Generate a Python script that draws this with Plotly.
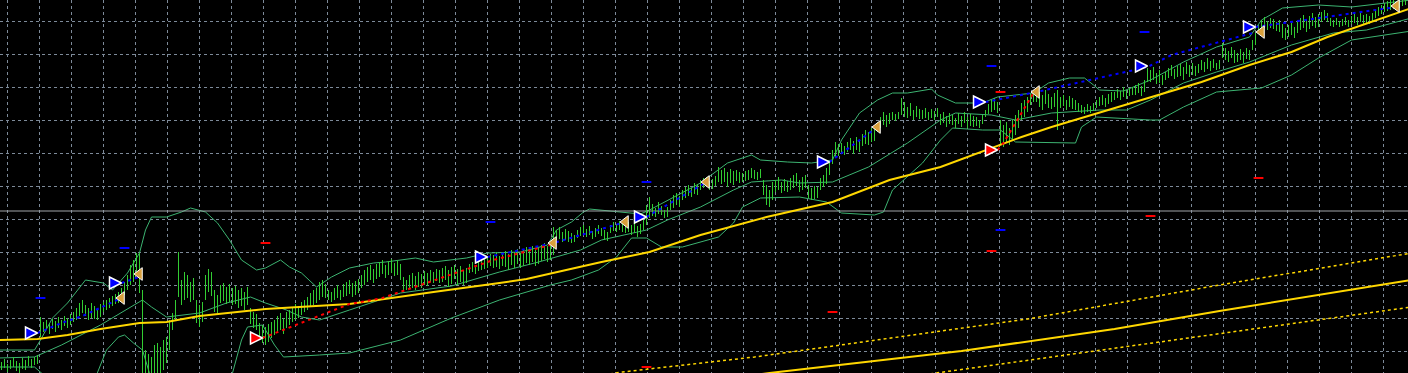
import plotly.graph_objects as go

# ---------------- price bars (high / low per bar, arbitrary price units) ----------------
high = [
    38, 41, 36, 40, 43, 39, 37, 42, 40, 44, 41, 43, 45,
    83,
    78, 80, 76, 81, 79, 83, 80, 84, 82, 86,
    88, 92, 97, 100, 95, 92, 97, 94, 90, 96,
    98, 100, 102, 104, 106, 108,
    112, 118, 125, 135, 140, 147, 147,
    110,
    50, 46, 43, 55, 57, 53, 60,
    63, 80, 87,
    100, 148, 120, 128, 125, 118, 122,
    100, 95, 98,
    125, 131, 128,
    110, 105,
    115, 117, 113, 116, 112, 114,
    110, 112, 108, 113,
    92, 88, 86, 77, 75,
    73, 76, 78,
    80, 84, 87, 82,
    88, 90, 93, 96, 94, 98, 100,
    103, 107, 110, 112, 118, 120, 116,
    110, 108,
    112, 115, 110, 116, 118, 120, 117, 119, 121,
    125, 130, 133, 135, 131, 136,
    138, 140, 135, 139, 141, 137, 140, 136,
    123, 120, 125,
    127, 124, 128, 126, 129, 127,
    130, 128, 131, 130,
    132, 134, 130, 133, 135, 131, 134,
    130, 132,
    136, 138, 135, 139, 140, 142,
    143, 146,
    145, 148, 144, 147,
    149, 146, 150, 148, 151, 147,
    150, 153, 152, 154, 150, 153,
    155, 157, 154, 157,
    173,
    170, 173, 168, 171, 169,
    167, 165,
    170, 173, 175, 171, 174, 169, 172, 175, 172,
    170, 168,
    175, 178, 176, 179, 177,
    176, 178, 175, 177, 174, 176,
    180, 195, 203,
    196, 192, 198, 194, 190, 193,
    200, 205, 207, 204,
    210, 213, 215, 212, 217, 216,
    220, 222, 223, 219, 221, 224,
    233,
    230, 232, 228, 231, 229,
    230, 228, 227, 229, 230,
    232, 230, 228, 231,
    220, 215, 210, 218,
    220, 223, 218, 221, 219,
    222, 225, 227, 220, 223, 225,
    215, 212, 214, 213,
    222, 225, 232,
    238, 250, 258, 256, 257, 254,
    258, 262, 259, 263, 260,
    266, 270, 268, 272, 271,
    278, 283, 288, 285, 287,
    288, 286, 288,
    302, 298,
    293, 297, 290, 294, 291,
    290, 292, 288, 291, 289, 292,
    286, 288, 284, 287,
    285, 282, 287, 284, 288, 283, 286, 284,
    283, 280, 285,
    290, 296, 300, 302, 298,
    280, 275, 278, 272, 280, 285,
    290, 297, 300, 303,
    306, 310, 307,
    308, 305, 310, 306, 303, 307,
    310,
    303, 305, 300, 304, 302, 300,
    297, 295, 293, 296, 294, 297,
    300, 303, 305, 302, 306, 308,
    308, 311, 309, 313, 310, 312, 313,
    315, 317, 314, 320,
    332,
    330, 333, 327, 330, 325,
    328, 332, 335, 331, 334,
    336, 333, 338, 335, 337, 334,
    336, 340, 338, 342, 339, 341, 337, 340,
    357,
    352, 349, 353, 350, 347, 351, 348, 352, 350,
    360, 367,
    375, 380, 383, 379, 382, 381, 378,
    380, 376, 372, 375, 377, 373,
    378, 382, 385, 380, 384, 387, 383, 386,
    388, 390, 387,
    382, 380, 382, 379, 381, 383, 380,
    384, 386, 383, 387, 385, 386, 384, 387,
    390, 393, 395, 397, 399, 401, 400,
    398, 402, 403, 405,
]
low = [
    30, 32, 28, 31, 33, 29, 27, 31, 30, 34, 32, 35, 36,
    63,
    68, 70, 66, 71, 68, 72, 70, 74, 72, 75,
    78, 80, 84, 87, 84, 80, 82, 81, 80, 83,
    88, 90, 92, 94, 96, 97,
    100, 105, 110, 115, 118, 125, 107,
    20,
    18, 20, 22, 18, 20, 24, 30,
    37, 50, 70,
    80, 103, 95, 100, 102, 98, 100,
    77, 73, 78,
    100, 108, 104,
    88, 87,
    97, 99, 96, 98, 95, 96,
    92, 94, 90, 95,
    76, 72, 70, 60, 57,
    55, 58, 62,
    65, 67, 70, 66,
    72, 75, 78, 80, 82, 85, 88,
    90, 93, 95, 97, 100, 103, 102,
    100, 98,
    100, 102, 100, 103, 104, 106, 103, 105, 107,
    112, 115, 118, 120, 117, 121,
    123, 126, 122, 125, 127, 124, 125, 120,
    110, 110, 112,
    112, 110, 113, 112, 115, 114,
    118, 117, 119, 117,
    118, 120, 113, 116, 121, 115, 118,
    115, 117,
    127, 128, 126, 129, 130, 131,
    132, 134,
    132, 133, 131, 134,
    133, 130, 135, 132, 136, 132,
    134, 137, 135, 138, 134, 136,
    139, 141, 138, 140,
    145,
    160, 161, 158, 160, 158,
    157, 158,
    162, 164, 165, 163, 165, 161, 163, 166, 164,
    160, 159,
    167, 169, 168, 170, 168,
    167, 168, 165, 167, 163, 166,
    170, 175, 182,
    184, 183, 186, 185, 182, 183,
    190, 192, 195, 193,
    200, 202, 204, 203, 206, 205,
    210, 212, 213, 210, 211, 214,
    218,
    216, 218, 213, 217, 215,
    219, 217, 218, 219, 220,
    222, 221, 220, 222,
    205, 195, 193, 200,
    208, 210, 207, 209, 208,
    210, 212, 214, 208, 210, 212,
    202, 200, 201, 202,
    210, 213, 216,
    225, 236, 242, 244, 246, 245,
    248, 250, 246, 250, 248,
    254, 256, 255, 258, 259,
    268, 272, 275, 273, 276,
    280, 279, 281,
    285, 283,
    282, 284, 280, 283, 281,
    281, 282, 280, 282, 280, 283,
    275, 277, 273, 276,
    275, 272, 276, 273, 277, 272, 274, 273,
    274, 272, 276,
    283, 286, 288, 290, 287,
    255, 253, 257, 255, 260, 265,
    272, 280, 283, 288,
    295, 298, 298,
    293, 290, 296, 292, 291, 293,
    270,
    292, 294, 290, 293, 291, 290,
    288, 287, 286, 288, 287, 289,
    292, 294, 295, 293, 296, 298,
    300, 302, 300, 303, 301, 304, 305,
    305, 307, 304, 308,
    318,
    318, 320, 316, 317, 315,
    320, 322, 324, 321, 323,
    324, 320, 326, 323, 325, 324,
    327, 330, 328, 331, 329, 332, 330, 331,
    342,
    340, 338, 342, 337, 338, 340, 337, 341, 340,
    350, 355,
    366, 370, 372, 370, 372, 371, 369,
    368, 362, 360, 363, 365, 362,
    367, 370, 372, 368, 371, 374, 372, 373,
    378, 380, 378,
    374, 373, 375, 373, 374, 375, 373,
    376, 377, 375, 378, 376, 377, 376, 378,
    382, 384, 386, 388, 389, 390, 391,
    390, 392, 394, 395,
]

# ---------------- Bollinger bands (bar index, price) ----------------
upper_x = [-1, 11, 13, 17, 22, 28, 34, 37, 42, 46, 48, 50, 55, 60, 63, 68, 72, 76, 80, 85, 88, 93, 96, 100,
           105, 110, 116, 124, 128, 138, 144, 150, 155, 162, 173, 182, 185, 190, 194, 196, 203, 208, 213, 216,
           233, 242, 250, 253, 262, 270, 277, 280, 286, 292, 297, 302, 310, 312, 318, 327, 332, 344, 349, 356,
           361, 364, 366, 374, 383, 394, 405, 416, 420, 427, 439, 450, 461, 470]
upper_v = [50, 50, 60, 82, 97, 120, 117, 110, 127, 147, 170, 183, 183, 188, 192, 188, 177, 160, 140, 130, 132, 140, 133, 127,
           113, 123, 132, 137, 138, 142, 138, 140, 142, 147, 148, 155, 170, 178, 188, 191, 189, 187, 186, 190,
           217, 237, 245, 240, 238, 237, 240, 260, 287, 300, 307, 307, 311, 305, 297, 297, 303, 307, 317, 322,
           322, 315, 310, 309, 320, 338, 353, 363, 380, 392, 395, 393, 397, 400]
middle_x = [-1, 11, 20, 33, 47, 50, 55, 66, 75, 83, 88, 95, 100, 106, 116, 133, 150, 166, 179, 185, 193, 200, 208,
            215, 222, 233, 244, 250, 260, 266, 277, 289, 302, 313, 318, 330, 338, 350, 366, 375, 383, 394, 405,
            416, 430, 444, 455, 470]
middle_v = [42, 43, 55, 75, 100, 93, 83, 87, 97, 103, 97, 90, 83, 80, 90, 107, 114, 128, 138, 143, 150, 160, 165,
            170, 180, 193, 210, 218, 220, 217, 218, 233, 257, 280, 287, 285, 280, 287, 290, 290, 300, 317, 328,
            338, 355, 367, 370, 382]
lower_x = [-1, 11, 16, 25, 31, 35, 39, 41, 44, 47, 50, 53, 66, 75, 77, 80, 82, 87, 91, 94, 106, 116, 133, 150,
           166, 183, 190, 199, 205, 210, 215, 220, 227, 239, 244, 247, 253, 266, 275, 280, 291, 294, 297, 307,
           313, 317, 327, 333, 338, 358, 360, 365, 383, 386, 394, 405, 420, 430, 439, 450, 470]
lower_v = [33, 33, 20, 5, 20, 50, 63, 65, 57, 50, 20, -20, -40, 0, 27, 60, 73, 75, 55, 43, 45, 47, 60, 82,
           100, 115, 120, 130, 143, 162, 162, 153, 153, 163, 177, 193, 202, 203, 198, 187, 185, 188, 210, 237,
           260, 272, 270, 270, 258, 257, 273, 283, 280, 280, 293, 308, 312, 325, 342, 360, 369]

# ---------------- moving averages ----------------
ma_x = [-1, 12, 22, 33, 46, 55, 66, 88, 116, 127, 144, 166, 175, 200, 216, 233, 255, 277, 296, 313, 330, 340,
        350, 372, 383, 400, 416, 430, 442, 470]
ma_v = [60, 61, 65, 71, 77, 78, 84, 91, 96, 101, 108, 117, 121, 138, 148, 165, 183, 198, 220, 233, 252, 263,
        273, 293, 303, 318, 335, 348, 363, 392]
slow_x = [200, 256, 320, 371, 406, 470]
slow_v = [5, 27, 49, 71, 89, 120]
env_up_x = [183, 207, 251, 342, 406, 470]
env_up_v = [17, 28, 43, 81, 115, 147]
env_dn_x = [266, 314, 371, 440, 470]
env_dn_v = [8, 28, 52, 81, 93]

# ---------------- trailing stop dots ----------------
blue_trail = [
    ([12, 20, 27, 33, 40], [67, 77, 84, 92, 102]),
    ([40, 46], [117, 123]),
    ([162, 184, 208], [143, 157, 178]),
    ([215, 235], [183, 218]),
    ([276, 292], [238, 273]),
    ([328, 345, 382, 390, 417], [298, 308, 333, 345, 367]),
    ([418, 465], [373, 393]),
]
red_trail = [
    ([87, 116, 127, 164, 183], [62, 96, 102, 140, 155]),
    ([332, 334, 344], [250, 257, 307]),
]

# ---------------- signals ----------------
buy_x = [12, 40, 162, 215, 276, 328, 382, 418]
buy_v = [67, 117, 143, 183, 238, 298, 334, 373]
sell_x = [87, 332]
sell_v = [62, 250]
exit_x = [40, 46, 184, 208, 235, 292, 345, 420, 465]
exit_v = [102, 126, 157, 178, 218, 273, 308, 368, 394]
blue_lvl_x = [13, 41, 163, 215, 330, 333, 381]
blue_lvl_v = [102, 152, 178, 218, 334, 170, 368]
red_lvl_x = [88, 215, 277, 330, 333, 383, 419]
red_lvl_v = [157, 33, 88, 149, 308, 184, 222]
price_line = 189

BAR = "#32CD32"
BAND = "#3CB371"
GOLD = "#FFD700"

fig = go.Figure()

# bands
for bx, bv in [(upper_x, upper_v), (middle_x, middle_v), (lower_x, lower_v)]:
    fig.add_trace(go.Scatter(x=bx, y=bv, mode="lines", line=dict(color=BAND, width=1), hoverinfo="skip"))

# slow MA and envelopes
fig.add_trace(go.Scatter(x=slow_x, y=slow_v, mode="lines", line=dict(color=GOLD, width=2), hoverinfo="skip"))
for ex, ev in [(env_up_x, env_up_v), (env_dn_x, env_dn_v)]:
    fig.add_trace(go.Scatter(x=ex, y=ev, mode="lines", line=dict(color=GOLD, width=1.5, dash="3px,3px"),
                             hoverinfo="skip"))

# price line
fig.add_trace(go.Scatter(x=[-1, 470], y=[price_line, price_line], mode="lines",
                         line=dict(color="#a0a4a8", width=1), hoverinfo="skip"))

# bars
bx, by = [], []
for i, (h, l) in enumerate(zip(high, low)):
    bx += [i, i, None]
    by += [l, h, None]
fig.add_trace(go.Scatter(x=bx, y=by, mode="lines", line=dict(color=BAR, width=1), hoverinfo="skip"))

# fast MA
fig.add_trace(go.Scatter(x=ma_x, y=ma_v, mode="lines", line=dict(color=GOLD, width=2), hoverinfo="skip"))

# trailing stops
for tx, tv in blue_trail:
    fig.add_trace(go.Scatter(x=tx, y=tv, mode="lines", line=dict(color="#0000ff", width=2, dash="3px,4px"),
                             hoverinfo="skip"))
for tx, tv in red_trail:
    fig.add_trace(go.Scatter(x=tx, y=tv, mode="lines", line=dict(color="#ff0000", width=2, dash="3px,4px"),
                             hoverinfo="skip"))

# level dashes
fig.add_trace(go.Scatter(x=blue_lvl_x, y=blue_lvl_v, mode="markers",
                         marker=dict(symbol="line-ew", size=7, line=dict(color="#0000ff", width=2)),
                         hoverinfo="skip"))
fig.add_trace(go.Scatter(x=red_lvl_x, y=red_lvl_v, mode="markers",
                         marker=dict(symbol="line-ew", size=7, line=dict(color="#ff0000", width=2)),
                         hoverinfo="skip"))

# signal arrows
fig.add_trace(go.Scatter(x=exit_x, y=exit_v, mode="markers",
                         marker=dict(symbol="triangle-left", size=11, color="#D9A03C",
                                     line=dict(color="white", width=1)), hoverinfo="skip"))
fig.add_trace(go.Scatter(x=buy_x, y=buy_v, mode="markers",
                         marker=dict(symbol="arrow-right", size=12, color="#0000ff",
                                     line=dict(color="white", width=1.5)), hoverinfo="skip"))
fig.add_trace(go.Scatter(x=sell_x, y=sell_v, mode="markers",
                         marker=dict(symbol="arrow-right", size=12, color="#ff0000",
                                     line=dict(color="white", width=1.5)), hoverinfo="skip"))

grid = dict(showgrid=True, gridcolor="#7d8a99", gridwidth=1, griddash="3px,3px", zeroline=False,
            showticklabels=False, ticks="", showline=False, fixedrange=True)
fig.update_layout(
    width=1408, height=373, margin=dict(l=0, r=0, t=0, b=0),
    paper_bgcolor="black", plot_bgcolor="black", showlegend=False,
    xaxis=dict(range=[-0.5, 468.83], tick0=2, dtick=32 / 3, **grid),
    yaxis=dict(range=[27, 400], tick0=49, dtick=33, **grid),
)
fig.write_html("out.html")
